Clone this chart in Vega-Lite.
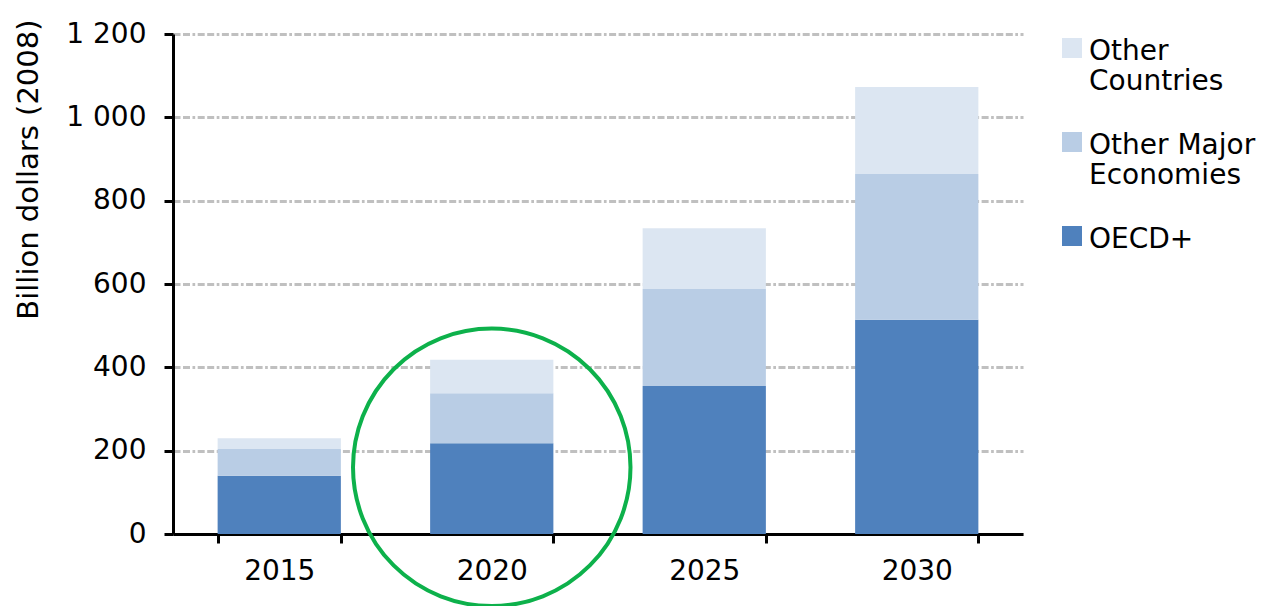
{
  "$schema": "https://vega.github.io/schema/vega-lite/v6.json",
  "width": 850,
  "height": 500,
  "autosize": {"type": "none"},
  "padding": {"left": 173, "top": 34, "right": 245, "bottom": 72},
  "background": "white",
  "config": {
    "view": {"stroke": null},
    "font": "DejaVu Sans"
  },
  "datasets": {
    "bars": [
      {"year": "2015", "region": "OECD+", "value": 140},
      {"year": "2015", "region": "Other Major Economies", "value": 64},
      {"year": "2015", "region": "Other Countries", "value": 26},
      {"year": "2020", "region": "OECD+", "value": 218},
      {"year": "2020", "region": "Other Major Economies", "value": 120},
      {"year": "2020", "region": "Other Countries", "value": 80},
      {"year": "2025", "region": "OECD+", "value": 355},
      {"year": "2025", "region": "Other Major Economies", "value": 233},
      {"year": "2025", "region": "Other Countries", "value": 146},
      {"year": "2030", "region": "OECD+", "value": 514},
      {"year": "2030", "region": "Other Major Economies", "value": 350},
      {"year": "2030", "region": "Other Countries", "value": 209}
    ],
    "highlight": [
      {"year": "2020", "value": 160}
    ]
  },
  "layer": [
    {
      "data": {"name": "bars"},
      "transform": [
        {"calculate": "indexof(['OECD+', 'Other Major Economies', 'Other Countries'], datum.region)", "as": "stackOrder"}
      ],
      "mark": {"type": "bar"},
      "encoding": {
        "x": {
          "field": "year",
          "type": "ordinal",
          "scale": {"paddingInner": 0.42, "paddingOuter": 0.21},
          "axis": {
            "title": null,
            "labelAngle": 0,
            "labelFont": "DejaVu Sans",
            "labelFontSize": 28,
            "labelColor": "#000000",
            "labelPadding": 14,
            "tickBand": "extent",
            "tickSize": 9,
            "tickWidth": 3,
            "tickColor": "#000000",
            "domainColor": "#000000",
            "domainWidth": 3,
            "grid": false
          }
        },
        "y": {
          "field": "value",
          "type": "quantitative",
          "stack": "zero",
          "scale": {"domain": [0, 1200], "nice": false},
          "axis": {
            "values": [0, 200, 400, 600, 800, 1000, 1200],
            "labelExpr": "replace(format(datum.value, ','), ',', ' ')",
            "title": "Billion dollars (2008)",
            "titleFont": "DejaVu Sans",
            "titleFontSize": 29,
            "titleFontWeight": "normal",
            "titleColor": "#000000",
            "titleAngle": -90,
            "titleAlign": "right",
            "titleBaseline": "middle",
            "titleX": -145,
            "titleY": -15,
            "labelFont": "DejaVu Sans",
            "labelFontSize": 28,
            "labelColor": "#000000",
            "labelPadding": 18,
            "tickSize": 9,
            "tickWidth": 3,
            "tickColor": "#000000",
            "domainColor": "#000000",
            "domainWidth": 3,
            "grid": true,
            "gridColor": "#c0c0c0",
            "gridWidth": 3,
            "gridDash": [7, 2.5, 7, 2.5, 2.7, 2.5]
          }
        },
        "color": {
          "field": "region",
          "type": "nominal",
          "scale": {
            "domain": ["OECD+", "Other Major Economies", "Other Countries"],
            "range": ["#4f81bd", "#b9cde5", "#dce6f2"]
          },
          "legend": {
            "title": null,
            "orient": "right",
            "offset": 35,
            "values": ["Other Countries", "Other Major Economies", "OECD+"],
            "symbolType": "square",
            "symbolSize": 400,
            "symbolStrokeWidth": 0,
            "symbolOpacity": 1,
            "labelFont": "DejaVu Sans",
            "labelFontSize": 28,
            "labelColor": "#000000",
            "labelOffset": 3,
            "labelLimit": 400,
            "labelLineHeight": 32,
            "labelBaseline": "top",
            "rowPadding": 32,
            "labelExpr": "datum.label == 'Other Countries' ? ['Other', 'Countries'] : datum.label == 'Other Major Economies' ? ['Other Major', 'Economies'] : datum.label",
            "encoding": {
              "labels": {"dy": {"value": -10}}
            }
          }
        },
        "order": {"field": "stackOrder", "type": "quantitative", "sort": "ascending"}
      }
    },
    {
      "data": {"name": "highlight"},
      "mark": {
        "type": "point",
        "shape": "circle",
        "filled": false,
        "size": 77000,
        "stroke": "#0db14b",
        "strokeWidth": 4,
        "opacity": 1,
        "clip": false
      },
      "encoding": {
        "x": {"field": "year", "type": "ordinal"},
        "y": {"field": "value", "type": "quantitative"}
      }
    }
  ]
}
